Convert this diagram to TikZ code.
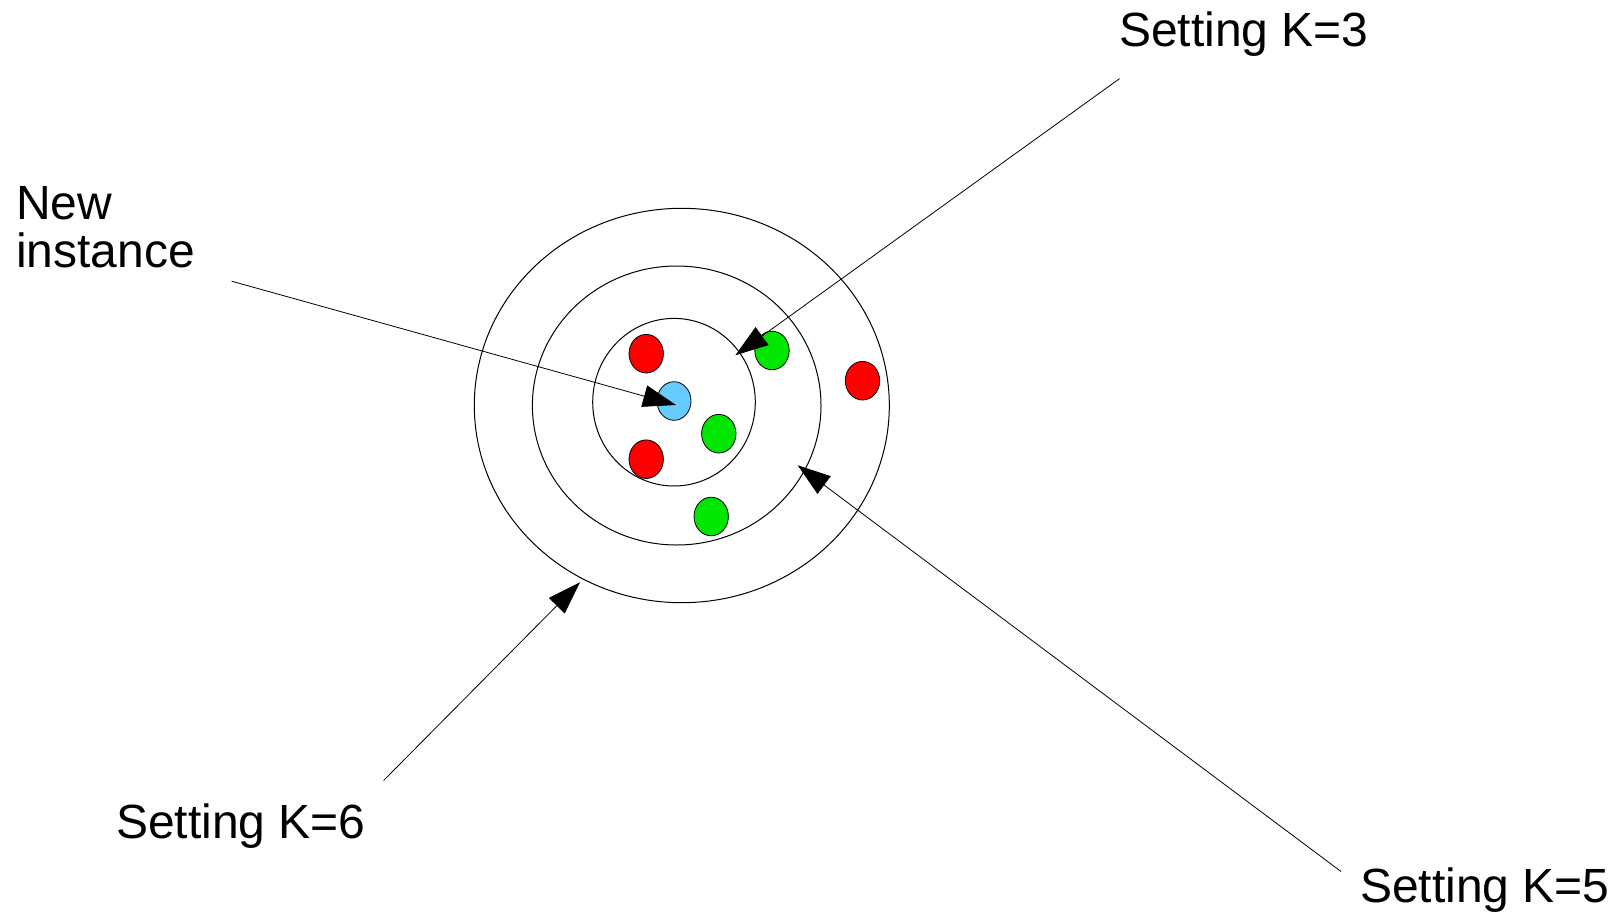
\documentclass[tikz,border=0pt]{standalone}
\usepackage{fontspec}
\setmainfont{Liberation Sans}
\usetikzlibrary{arrows.meta}
\definecolor{dotred}{HTML}{FF0000}
\definecolor{dotgreen}{HTML}{00E600}
\definecolor{dotblue}{HTML}{66CCFF}
\begin{document}
\begin{tikzpicture}[x=1pt,y=-1pt,
  ring/.style={draw=black,line width=1pt},
  dot/.style={draw=black,line width=0.8pt},
  lbl/.style={inner sep=0pt,font=\fontsize{48}{48}\selectfont},
  pointer/.style={draw=black,line width=0.8pt,-{Triangle[length=33pt,width=22pt]}}]
\useasboundingbox (0,0) rectangle (1621,915);
% rings
\draw[ring] (681.8,405.5) ellipse [x radius=207.5, y radius=197.2];
\draw[ring] (676.7,405.5) ellipse [x radius=144.3, y radius=139.5];
\draw[ring] (674,402.2) ellipse [x radius=81.3, y radius=83.8];
% dots
\filldraw[dot,fill=dotred]   (646.2,353.7) ellipse [x radius=17.2, y radius=19.3];
\filldraw[dot,fill=dotblue]  (674,401) ellipse [x radius=17, y radius=19.3];
\filldraw[dot,fill=dotgreen] (772,350.5) ellipse [x radius=17.2, y radius=19.3];
\filldraw[dot,fill=dotgreen] (718.8,433.7) ellipse [x radius=17.2, y radius=19.3];
\filldraw[dot,fill=dotred]   (646.2,459.2) ellipse [x radius=17.2, y radius=19.3];
\filldraw[dot,fill=dotgreen] (711.2,516.5) ellipse [x radius=17.2, y radius=19.3];
\filldraw[dot,fill=dotred]   (862.5,380.7) ellipse [x radius=17.2, y radius=19.3];
% labels
\node[lbl,anchor=north west,align=left] (newinst) at (16,186) {New\\instance};
\node[lbl,anchor=base west] (k3) at (1119,47) {Setting K=3};
\node[lbl,anchor=base west] (k6) at (116,838) {Setting K=6};
\node[lbl,anchor=base west] (k5) at (1360,902) {Setting K=5};
% connector ends
\coordinate (sNew) at (231.6,281.2);
\coordinate (tNew) at (676,405);
\coordinate (s3) at (1119.6,78.6);
\coordinate (t3) at (735.3,355.3);
\coordinate (s5) at (1341,871.5);
\coordinate (t5) at (797.7,465.3);
\coordinate (s6) at (383.6,780.5);
\coordinate (t6) at (580,582.3);
% arrows
\draw[pointer] (sNew) -- (tNew);
\draw[pointer] (s3) -- (t3);
\draw[pointer] (s5) -- (t5);
\draw[pointer] (s6) -- (t6);
\end{tikzpicture}
\end{document}
